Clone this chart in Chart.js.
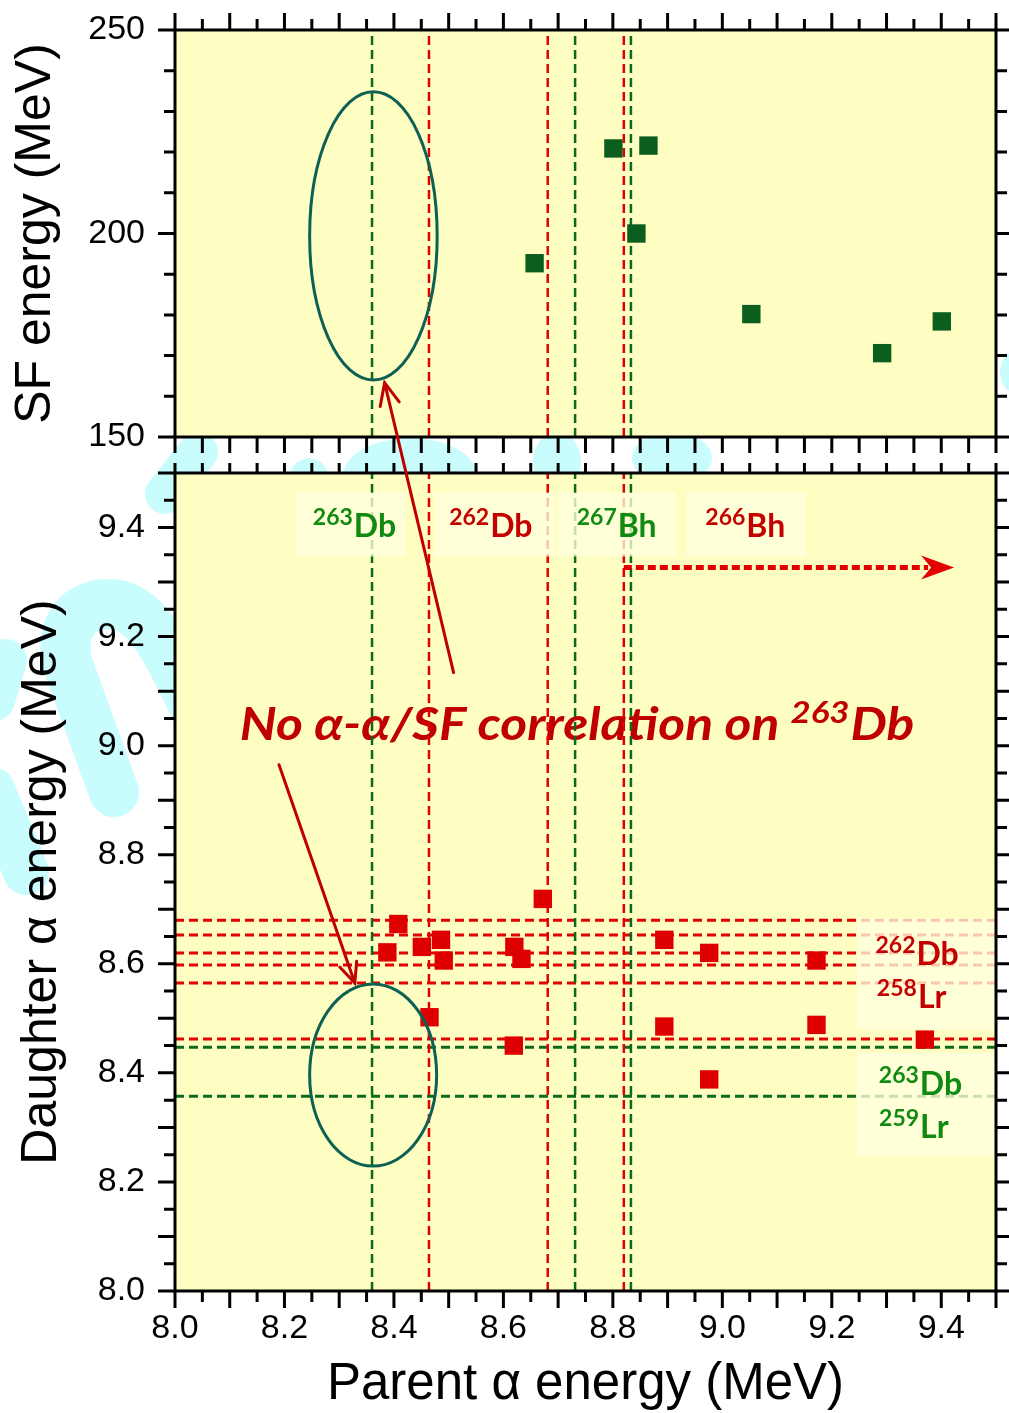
<!DOCTYPE html>
<html>
<head>
<meta charset="utf-8">
<title>Parent / daughter alpha and SF energies</title>
<script src="https://cdn.jsdelivr.net/npm/chart.js@4.4.1/dist/chart.umd.min.js"></script>
<style>
  html, body { margin: 0; padding: 0; background: #ffffff; }
  #wrap { position: relative; width: 1009px; height: 1413px; overflow: hidden; }
  #wrap canvas { position: absolute; left: 0; top: 0; }
</style>
</head>
<body>
<div id="wrap">
  <canvas id="lower" width="1009" height="1413"></canvas>
  <canvas id="upper" width="1009" height="1413"></canvas>
</div>
<script>
// ---------------- axis ranges and tick labels ----------------
const parentRange = [8.0, 9.5];
const daughterRange = [8.0, 9.5];
const sfRange = [150, 250];
const parentTickLabels = ['8.0', '8.2', '8.4', '8.6', '8.8', '9.0', '9.2', '9.4'];
const daughterTickLabels = ['8.0', '8.2', '8.4', '8.6', '8.8', '9.0', '9.2', '9.4'];
const sfTickLabels = ['150', '200', '250'];

// ---------------- parent alpha -> SF events ----------------
const sfParentE = [8.657, 8.801, 8.865, 8.843, 9.053, 9.292, 9.401];
const sfEnergy  = [192.7, 220.9, 221.6, 200.0, 180.2, 170.6, 178.4];

// ---------------- parent alpha -> daughter alpha events ----------------
const aaParentE   = [8.408, 8.388, 8.451, 8.486, 8.491, 8.672, 8.620, 8.633, 8.894,
                     8.976, 9.172, 8.465, 8.894, 9.172, 9.370, 8.619, 8.976];
const aaDaughterE = [8.673, 8.621, 8.631, 8.644, 8.606, 8.719, 8.631, 8.609, 8.644,
                     8.620, 8.606, 8.502, 8.485, 8.488, 8.461, 8.450, 8.388];

// ---------------- known alpha-line energies (MeV) ----------------
const redParentLines     = [8.464, 8.681, 8.820];   // 262Db, 266Bh
const greenParentLines   = [8.360, 8.731, 8.833];   // 263Db, 267Bh
const redDaughterLines   = [8.680, 8.653, 8.620, 8.598, 8.565, 8.462];  // 262Db, 258Lr
const greenDaughterLines = [8.447, 8.357];          // 263Db, 259Lr

// ---------------- styling ----------------
const BG_PLOT   = '#fefec3';
const RED_LINE  = '#e30000';
const GREEN_LINE = '#0b6a1e';
const RED_PT    = '#de0000';
const GREEN_PT  = '#0b5e1e';
const RED_TXT   = '#c40000';
const GREEN_TXT = '#118a11';
const ARROW_RED = '#c00000';
const RING      = '#0d6152';
const AXIS_FONT = "'Liberation Sans', Arial, sans-serif";
const NOTE_FONT = "Lato, 'Open Sans', 'DejaVu Sans', sans-serif";

// annotation anchors, in data units
const topLabelBand = { top: 9.464, bottom: 9.347, baseline: 9.3835 };
const topLabels = [
  { mass: '263', sym: 'Db', color: GREEN_TXT, x: 8.327, box: [8.221, 8.421] },
  { mass: '262', sym: 'Db', color: RED_TXT,   x: 8.576, box: [8.474, 8.692] },
  { mass: '267', sym: 'Bh', color: GREEN_TXT, x: 8.806, box: [8.699, 8.916] },
  { mass: '266', sym: 'Bh', color: RED_TXT,   x: 9.041, box: [8.934, 9.152] }
];
const sideBoxes = [
  { x: [9.246, 9.498], y: [8.684, 8.479] },
  { x: [9.246, 9.498], y: [8.437, 8.246] }
];
const sideLabels = [
  { mass: '262', sym: 'Db', color: RED_TXT,   x: 9.355, y: 8.598 },
  { mass: '258', sym: 'Lr', color: RED_TXT,   x: 9.345, y: 8.519 },
  { mass: '263', sym: 'Db', color: GREEN_TXT, x: 9.361, y: 8.360 },
  { mass: '259', sym: 'Lr', color: GREEN_TXT, x: 9.349, y: 8.281 }
];
const note = { x: 8.7336, y: 9.011 };
const lowerRing = { x: 8.362, y: 8.396, rx: 0.116, ry: 0.167 };
const upperRing = { x: 8.3625, y: 199.4, rx: 0.1165, ry: 35.4 };
const rangeArrow = { x0: 8.820, x1: 9.4234, y: 9.3266 };
const noteArrowLow = { x0: 8.190, y0: 8.965, x1: 8.3285, y1: 8.5646 };
const noteArrowUp  = { x0: 8.509, y0: 9.134, x1: 8.383, y1: 163.3 };

// ---------------- helpers ----------------
function vLine(x, yr, color) {
  return { type: 'scatter', data: [{ x: x, y: yr[0] }, { x: x, y: yr[1] }], showLine: true,
           borderColor: color, borderWidth: 2.5, borderDash: [9, 5], pointRadius: 0, order: 2 };
}
function hLine(y, xr, color) {
  return { type: 'scatter', data: [{ x: xr[0], y: y }, { x: xr[1], y: y }], showLine: true,
           borderColor: color, borderWidth: 3, borderDash: [9, 5], pointRadius: 0, order: 2 };
}
function labelCallback(list, digits) {
  return function (v) {
    const s = Number(v).toFixed(digits);
    return list.includes(s) ? s : '';
  };
}
function noPad(s) { s.paddingTop = 0; s.paddingBottom = 0; s.paddingLeft = 0; s.paddingRight = 0; }
function isotope(ctx, cx, baseline, mass, sym, color, size, italic) {
  const st = italic ? 'italic ' : '';
  const supSize = Math.round(size * 0.71);
  const supFont = st + 'bold ' + supSize + 'px ' + NOTE_FONT;
  const mainFont = st + 'bold ' + size + 'px ' + NOTE_FONT;
  ctx.font = supFont; const w1 = ctx.measureText(mass).width;
  ctx.font = mainFont; const w2 = ctx.measureText(sym).width;
  const x = cx - (w1 + w2) / 2;
  ctx.fillStyle = color; ctx.textAlign = 'left'; ctx.textBaseline = 'alphabetic';
  ctx.font = supFont; ctx.fillText(mass, x, baseline - size * 0.37);
  ctx.font = mainFont; ctx.fillText(sym, x + w1 + 1, baseline);
}
function openArrow(ctx, x0, y0, x1, y1, head) {
  const a = Math.atan2(y1 - y0, x1 - x0);
  ctx.beginPath(); ctx.moveTo(x0, y0); ctx.lineTo(x1, y1); ctx.stroke();
  ctx.beginPath();
  ctx.moveTo(x1 - head * Math.cos(a - 0.42), y1 - head * Math.sin(a - 0.42));
  ctx.lineTo(x1, y1);
  ctx.lineTo(x1 - head * Math.cos(a + 0.42), y1 - head * Math.sin(a + 0.42));
  ctx.stroke();
}
function ring(ctx, xs, ys, r) {
  const cx = xs.getPixelForValue(r.x), cy = ys.getPixelForValue(r.y);
  const rx = Math.abs(xs.getPixelForValue(r.x + r.rx) - cx);
  const ry = Math.abs(ys.getPixelForValue(r.y + r.ry) - cy);
  ctx.save();
  ctx.strokeStyle = RING; ctx.lineWidth = 3;
  ctx.beginPath(); ctx.ellipse(cx, cy, rx, ry, 0, 0, Math.PI * 2); ctx.stroke();
  ctx.restore();
}
// tick marks on every side of a frame: long at each `major`, short in between
function tickMarks(chart, specs) {
  const { ctx, chartArea: a, scales } = chart;
  ctx.save();
  ctx.strokeStyle = '#000'; ctx.lineWidth = 3;
  ctx.beginPath();
  specs.forEach(s => {
    const sc = scales[s.axis];
    const n = Math.round((sc.max - sc.min) / s.step);
    const k = Math.round(s.major / s.step);
    for (let i = 0; i <= n; i++) {
      const p = sc.getPixelForValue(sc.min + i * s.step);
      const len = (i % k === 0) ? s.long : s.short;
      if (s.side === 'left')   { ctx.moveTo(a.left, p);   ctx.lineTo(a.left - len, p); }
      if (s.side === 'right')  { ctx.moveTo(a.right, p);  ctx.lineTo(a.right + len, p); }
      if (s.side === 'top')    { ctx.moveTo(p, a.top);    ctx.lineTo(p, a.top - len); }
      if (s.side === 'bottom') { ctx.moveTo(p, a.bottom); ctx.lineTo(p, a.bottom + len); }
    }
  });
  ctx.stroke();
  ctx.strokeRect(a.left, a.top, a.right - a.left, a.bottom - a.top);
  ctx.restore();
}
// pale cyan background emblem showing through the margins
function emblem(ctx) {
  ctx.save();
  ctx.strokeStyle = '#c9fcfd'; ctx.fillStyle = '#c9fcfd';
  ctx.lineCap = 'round'; ctx.lineJoin = 'round';
  ctx.lineWidth = 50;
  ctx.beginPath();
  ctx.moveTo(114, 792);
  ctx.lineTo(68, 665);
  ctx.bezierCurveTo(58, 625, 80, 604, 108, 604);
  ctx.bezierCurveTo(140, 604, 160, 630, 200, 720);
  ctx.stroke();
  ctx.lineWidth = 42;
  ctx.beginPath(); ctx.moveTo(-6, 700); ctx.lineTo(6, 660); ctx.stroke();
  ctx.lineWidth = 46;
  ctx.beginPath(); ctx.moveTo(-8, 790); ctx.lineTo(26, 872); ctx.stroke();
  ctx.lineWidth = 40;
  ctx.beginPath(); ctx.moveTo(165, 494); ctx.lineTo(198, 452); ctx.stroke();
  const blobs = [[410, 476, 67, 38], [309, 480, 20, 22], [557, 462, 24, 30], [672, 458, 40, 26], [1014, 372, 14, 20]];
  blobs.forEach(b => { ctx.beginPath(); ctx.ellipse(b[0], b[1], b[2], b[3], 0, 0, Math.PI * 2); ctx.fill(); });
  ctx.restore();
}

// ---------------- lower panel: parent alpha vs daughter alpha ----------------
const lowerDecor = {
  id: 'lowerDecor',
  beforeDraw(chart) {
    const { ctx, chartArea: a } = chart;
    ctx.save();
    ctx.fillStyle = '#ffffff'; ctx.fillRect(0, 0, chart.width, chart.height);
    emblem(ctx);
    ctx.fillStyle = BG_PLOT; ctx.fillRect(a.left, a.top, a.right - a.left, a.bottom - a.top);
    ctx.restore();
  },
  beforeDatasetsDraw(chart) {
    const { ctx } = chart; const xs = chart.scales.x, ys = chart.scales.y;
    ctx.save();
    const size = 46, stretch = 1.12;
    const f1 = 'italic bold ' + size + 'px ' + NOTE_FONT;
    const f2 = 'italic bold ' + Math.round(size * 0.68) + 'px ' + NOTE_FONT;
    const t1 = 'No \u03b1-\u03b1/SF correlation on ', t2 = '263', t3 = 'Db';
    ctx.font = f1; const w1 = ctx.measureText(t1).width, w3 = ctx.measureText(t3).width;
    ctx.font = f2; const w2 = ctx.measureText(t2).width;
    const cx = xs.getPixelForValue(note.x);
    const y = ys.getPixelForValue(note.y);
    ctx.translate(cx, 0); ctx.scale(stretch, 1);
    const x = -(w1 + w2 + w3) / 2;
    ctx.fillStyle = ARROW_RED; ctx.textBaseline = 'alphabetic'; ctx.textAlign = 'left';
    ctx.font = f1; ctx.fillText(t1, x, y);
    ctx.font = f2; ctx.fillText(t2, x + w1, y - size * 0.37);
    ctx.font = f1; ctx.fillText(t3, x + w1 + w2 + 1, y);
    ctx.restore();
  },
  beforeDatasetDraw(chart, args) {
    if (args.index !== 0) return;
    const { ctx } = chart; const xs = chart.scales.x, ys = chart.scales.y;
    ctx.save();
    ctx.fillStyle = 'rgba(255,255,222,0.78)';
    const bt = ys.getPixelForValue(topLabelBand.top), bb = ys.getPixelForValue(topLabelBand.bottom);
    topLabels.forEach(l => {
      const x0 = xs.getPixelForValue(l.box[0]), x1 = xs.getPixelForValue(l.box[1]);
      ctx.fillRect(x0, bt, x1 - x0, bb - bt);
    });
    sideBoxes.forEach(b => {
      const x0 = xs.getPixelForValue(b.x[0]), x1 = xs.getPixelForValue(b.x[1]);
      const y0 = ys.getPixelForValue(b.y[0]), y1 = ys.getPixelForValue(b.y[1]);
      ctx.fillRect(x0, y0, x1 - x0, y1 - y0);
    });
    const base = ys.getPixelForValue(topLabelBand.baseline);
    topLabels.forEach(l => isotope(ctx, xs.getPixelForValue(l.x), base, l.mass, l.sym, l.color, 32, false));
    sideLabels.forEach(l => isotope(ctx, xs.getPixelForValue(l.x), ys.getPixelForValue(l.y), l.mass, l.sym, l.color, 32, false));
    ctx.restore();
  },
  afterDatasetsDraw(chart) {
    const { ctx } = chart; const xs = chart.scales.x, ys = chart.scales.y;
    ring(ctx, xs, ys, lowerRing);
    // dotted range arrow
    const x0 = xs.getPixelForValue(rangeArrow.x0), x1 = xs.getPixelForValue(rangeArrow.x1);
    const y = ys.getPixelForValue(rangeArrow.y);
    ctx.save();
    ctx.strokeStyle = RED_LINE; ctx.fillStyle = RED_LINE; ctx.lineWidth = 5;
    ctx.setLineDash([8, 4]);
    ctx.beginPath(); ctx.moveTo(x0, y); ctx.lineTo(x1 - 26, y); ctx.stroke();
    ctx.setLineDash([]);
    ctx.beginPath();
    ctx.moveTo(x1, y); ctx.lineTo(x1 - 33, y - 12); ctx.lineTo(x1 - 23, y); ctx.lineTo(x1 - 33, y + 12);
    ctx.closePath(); ctx.fill();
    // pointer into the lower ring
    ctx.strokeStyle = ARROW_RED; ctx.lineWidth = 3; ctx.lineCap = 'round';
    openArrow(ctx, xs.getPixelForValue(noteArrowLow.x0), ys.getPixelForValue(noteArrowLow.y0),
              xs.getPixelForValue(noteArrowLow.x1), ys.getPixelForValue(noteArrowLow.y1), 22);
    ctx.restore();
  },
  afterDraw(chart) {
    tickMarks(chart, [
      { axis: 'y', side: 'left',   step: 0.05, major: 0.1, long: 17, short: 11 },
      { axis: 'y', side: 'right',  step: 0.05, major: 0.1, long: 17, short: 11 },
      { axis: 'x', side: 'bottom', step: 0.05, major: 0.1, long: 17, short: 11 },
      { axis: 'x', side: 'top',    step: 0.05, major: 0.1, long: 10, short: 10 }
    ]);
  }
};

const lowerSets = [
  { type: 'scatter', label: 'daughter alpha',
    data: aaParentE.map((x, i) => ({ x: x, y: aaDaughterE[i] })),
    pointStyle: 'rect', pointRadius: 13, backgroundColor: RED_PT, borderWidth: 0, order: 0 }
];
redParentLines.forEach(v => lowerSets.push(vLine(v, daughterRange, RED_LINE)));
greenParentLines.forEach(v => lowerSets.push(vLine(v, daughterRange, GREEN_LINE)));
redDaughterLines.forEach(v => lowerSets.push(hLine(v, parentRange, RED_LINE)));
greenDaughterLines.forEach(v => lowerSets.push(hLine(v, parentRange, GREEN_LINE)));

const lowerChart = new Chart(document.getElementById('lower'), {
  type: 'scatter',
  data: { datasets: lowerSets },
  options: {
    responsive: false, animation: false, devicePixelRatio: 1, events: [],
    layout: { padding: { left: 0, right: 13, top: 473, bottom: 0 } },
    plugins: { legend: { display: false }, tooltip: { enabled: false } },
    scales: {
      x: {
        type: 'linear', position: 'bottom', min: parentRange[0], max: parentRange[1],
        grid: { display: false, drawTicks: false }, border: { display: false },
        ticks: { stepSize: 0.2, includeBounds: false, autoSkip: false, maxRotation: 0, padding: 17, color: '#000',
                 font: { family: AXIS_FONT, size: 34 }, callback: labelCallback(parentTickLabels, 1) },
        title: { display: true, text: 'Parent \u03b1 energy (MeV)', color: '#000',
                 font: { family: AXIS_FONT, size: 51 }, padding: { top: 0, bottom: -3 } },
        afterFit: s => { s.height = 122; noPad(s); }
      },
      y: {
        type: 'linear', position: 'left', min: daughterRange[0], max: daughterRange[1],
        grid: { display: false, drawTicks: false }, border: { display: false },
        ticks: { stepSize: 0.2, includeBounds: false, autoSkip: false, padding: 30, color: '#000',
                 font: { family: AXIS_FONT, size: 34 }, callback: labelCallback(daughterTickLabels, 1) },
        title: { display: true, text: 'Daughter \u03b1 energy (MeV)', color: '#000',
                 font: { family: AXIS_FONT, size: 50 }, padding: { top: 12, bottom: 0 } },
        afterFit: s => { s.width = 175; noPad(s); }
      }
    }
  },
  plugins: [lowerDecor]
});

// ---------------- upper panel: parent alpha vs SF energy ----------------
const upperDecor = {
  id: 'upperDecor',
  beforeDraw(chart) {
    const { ctx, chartArea: a } = chart;
    ctx.save();
    ctx.fillStyle = BG_PLOT; ctx.fillRect(a.left, a.top, a.right - a.left, a.bottom - a.top);
    ctx.restore();
  },
  afterDatasetsDraw(chart) {
    ring(chart.ctx, chart.scales.x, chart.scales.y, upperRing);
  },
  afterDraw(chart) {
    tickMarks(chart, [
      { axis: 'y', side: 'left',   step: 10, major: 50, long: 17, short: 11 },
      { axis: 'y', side: 'right',  step: 10, major: 50, long: 17, short: 11 },
      { axis: 'x', side: 'top',    step: 0.05, major: 0.1, long: 17, short: 11 },
      { axis: 'x', side: 'bottom', step: 0.05, major: 0.1, long: 16, short: 16 }
    ]);
    // pointer from the note up to the upper ring
    const { ctx } = chart;
    const lx = lowerChart.scales.x, ly = lowerChart.scales.y;
    ctx.save();
    ctx.strokeStyle = ARROW_RED; ctx.lineWidth = 3; ctx.lineCap = 'round';
    openArrow(ctx, lx.getPixelForValue(noteArrowUp.x0), ly.getPixelForValue(noteArrowUp.y0),
              chart.scales.x.getPixelForValue(noteArrowUp.x1), chart.scales.y.getPixelForValue(noteArrowUp.y1), 24);
    ctx.restore();
  }
};

const upperSets = [
  { type: 'scatter', label: 'SF',
    data: sfParentE.map((x, i) => ({ x: x, y: sfEnergy[i] })),
    pointStyle: 'rect', pointRadius: 13, backgroundColor: GREEN_PT, borderWidth: 0, order: 0 }
];
redParentLines.forEach(v => upperSets.push(vLine(v, sfRange, RED_LINE)));
greenParentLines.forEach(v => upperSets.push(vLine(v, sfRange, GREEN_LINE)));

const upperChart = new Chart(document.getElementById('upper'), {
  type: 'scatter',
  data: { datasets: upperSets },
  options: {
    responsive: false, animation: false, devicePixelRatio: 1, events: [],
    layout: { padding: { left: 0, right: 13, top: 30, bottom: 0 } },
    plugins: { legend: { display: false }, tooltip: { enabled: false } },
    scales: {
      x: {
        type: 'linear', position: 'bottom', min: parentRange[0], max: parentRange[1],
        grid: { display: false, drawTicks: false }, border: { display: false },
        ticks: { display: false },
        afterFit: s => { s.height = 976; noPad(s); }
      },
      y: {
        type: 'linear', position: 'left', min: sfRange[0], max: sfRange[1],
        grid: { display: false, drawTicks: false }, border: { display: false },
        ticks: { stepSize: 50, autoSkip: false, padding: 30, color: '#000',
                 font: { family: AXIS_FONT, size: 34 }, callback: labelCallback(sfTickLabels, 0) },
        title: { display: true, text: 'SF energy (MeV)', color: '#000',
                 font: { family: AXIS_FONT, size: 50 }, padding: { top: 6, bottom: 0 } },
        afterFit: s => { s.width = 175; noPad(s); }
      }
    }
  },
  plugins: [upperDecor]
});
</script>
</body>
</html>
